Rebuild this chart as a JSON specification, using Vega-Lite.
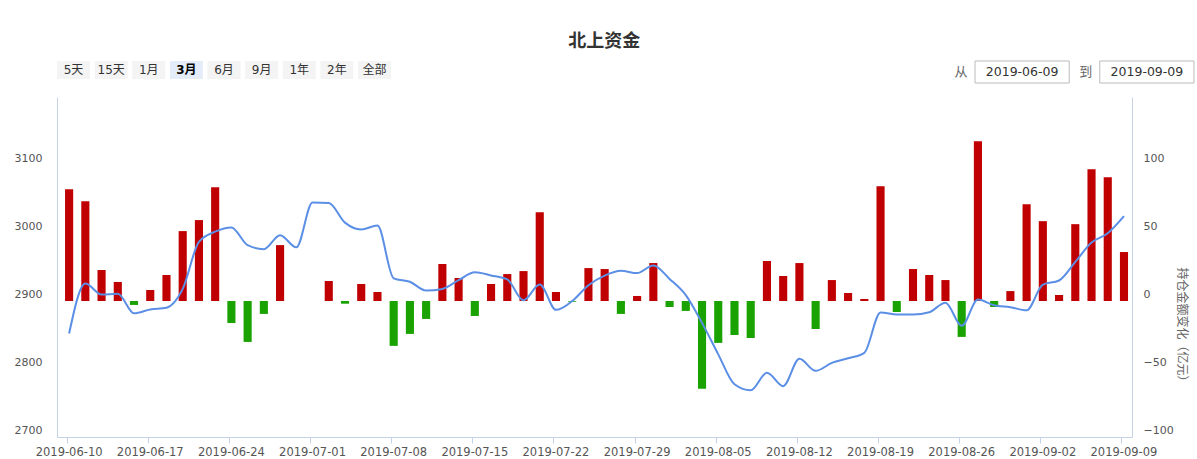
{
  "$schema": "https://vega.github.io/schema/vega-lite/v6.json",
  "background": "white",
  "padding": {"left": 14, "top": 32, "right": 5, "bottom": 0},
  "config": {"view": {"stroke": null}, "font": "DejaVu Sans, Noto Sans CJK SC"},
  "title": {"text": "北上资金", "anchor": "middle", "fontSize": 18, "fontWeight": "bold", "font": "Noto Sans CJK SC", "color": "#333333", "offset": 10},
  "datasets": {
    "main": [
      {"d": "2019-06-10", "sh": 2852.13, "flow": 82.2},
      {"d": "2019-06-11", "sh": 2925.72, "flow": 73.4},
      {"d": "2019-06-12", "sh": 2909.38, "flow": 22.8},
      {"d": "2019-06-13", "sh": 2910.74, "flow": 14.0},
      {"d": "2019-06-14", "sh": 2881.97, "flow": -2.9},
      {"d": "2019-06-17", "sh": 2887.62, "flow": 8.1},
      {"d": "2019-06-18", "sh": 2890.16, "flow": 19.1},
      {"d": "2019-06-19", "sh": 2917.80, "flow": 51.4},
      {"d": "2019-06-20", "sh": 2987.12, "flow": 59.5},
      {"d": "2019-06-21", "sh": 3001.98, "flow": 83.7},
      {"d": "2019-06-24", "sh": 3008.15, "flow": -16.2},
      {"d": "2019-06-25", "sh": 2982.07, "flow": -30.1},
      {"d": "2019-06-26", "sh": 2976.28, "flow": -9.5},
      {"d": "2019-06-27", "sh": 2996.79, "flow": 41.1},
      {"d": "2019-06-28", "sh": 2978.88, "flow": null},
      {"d": "2019-07-01", "sh": 3044.90, "flow": null},
      {"d": "2019-07-02", "sh": 3043.94, "flow": 14.7},
      {"d": "2019-07-03", "sh": 3015.26, "flow": -2.0},
      {"d": "2019-07-04", "sh": 3005.25, "flow": 12.5},
      {"d": "2019-07-05", "sh": 3011.06, "flow": 6.6},
      {"d": "2019-07-08", "sh": 2933.36, "flow": -33.0},
      {"d": "2019-07-09", "sh": 2928.23, "flow": -24.2},
      {"d": "2019-07-10", "sh": 2915.30, "flow": -13.2},
      {"d": "2019-07-11", "sh": 2917.76, "flow": 27.2},
      {"d": "2019-07-12", "sh": 2930.55, "flow": 16.9},
      {"d": "2019-07-15", "sh": 2942.19, "flow": -11.0},
      {"d": "2019-07-16", "sh": 2937.62, "flow": 12.5},
      {"d": "2019-07-17", "sh": 2931.69, "flow": 19.8},
      {"d": "2019-07-18", "sh": 2901.17, "flow": 22.0},
      {"d": "2019-07-19", "sh": 2924.20, "flow": 65.3},
      {"d": "2019-07-22", "sh": 2886.97, "flow": 6.6},
      {"d": "2019-07-23", "sh": 2899.94, "flow": -0.6},
      {"d": "2019-07-24", "sh": 2923.28, "flow": 24.2},
      {"d": "2019-07-25", "sh": 2937.36, "flow": 23.5},
      {"d": "2019-07-26", "sh": 2944.54, "flow": -9.5},
      {"d": "2019-07-29", "sh": 2941.01, "flow": 3.7},
      {"d": "2019-07-30", "sh": 2952.34, "flow": 27.9},
      {"d": "2019-07-31", "sh": 2932.51, "flow": -4.4},
      {"d": "2019-08-01", "sh": 2908.77, "flow": -7.3},
      {"d": "2019-08-02", "sh": 2867.84, "flow": -64.6},
      {"d": "2019-08-05", "sh": 2821.50, "flow": -30.8},
      {"d": "2019-08-06", "sh": 2777.56, "flow": -25.0},
      {"d": "2019-08-07", "sh": 2768.68, "flow": -27.2},
      {"d": "2019-08-08", "sh": 2794.55, "flow": 29.4},
      {"d": "2019-08-09", "sh": 2774.75, "flow": 18.4},
      {"d": "2019-08-12", "sh": 2814.99, "flow": 27.9},
      {"d": "2019-08-13", "sh": 2797.26, "flow": -20.6},
      {"d": "2019-08-14", "sh": 2808.91, "flow": 15.4},
      {"d": "2019-08-15", "sh": 2815.80, "flow": 5.9},
      {"d": "2019-08-16", "sh": 2823.82, "flow": 1.5},
      {"d": "2019-08-19", "sh": 2883.10, "flow": 84.4},
      {"d": "2019-08-20", "sh": 2880.33, "flow": -8.1},
      {"d": "2019-08-21", "sh": 2880.00, "flow": 23.5},
      {"d": "2019-08-22", "sh": 2883.44, "flow": 19.1},
      {"d": "2019-08-23", "sh": 2897.43, "flow": 15.4},
      {"d": "2019-08-26", "sh": 2863.57, "flow": -26.4},
      {"d": "2019-08-27", "sh": 2902.19, "flow": 117.5},
      {"d": "2019-08-28", "sh": 2893.76, "flow": -4.4},
      {"d": "2019-08-29", "sh": 2890.92, "flow": 7.3},
      {"d": "2019-08-30", "sh": 2886.24, "flow": 71.2},
      {"d": "2019-09-02", "sh": 2924.11, "flow": 58.7},
      {"d": "2019-09-03", "sh": 2930.15, "flow": 4.4},
      {"d": "2019-09-04", "sh": 2957.41, "flow": 56.5},
      {"d": "2019-09-05", "sh": 2985.86, "flow": 96.9},
      {"d": "2019-09-06", "sh": 2999.60, "flow": 91.0},
      {"d": "2019-09-09", "sh": 3024.74, "flow": 36.0}
    ],
    "btn": [
      {"label": "5天", "sel": 0},
      {"label": "15天", "sel": 0},
      {"label": "1月", "sel": 0},
      {"label": "3月", "sel": 1},
      {"label": "6月", "sel": 0},
      {"label": "9月", "sel": 0},
      {"label": "1年", "sel": 0},
      {"label": "2年", "sel": 0},
      {"label": "全部", "sel": 0}
    ],
    "rng": [
      {"lbl": "从", "d": "2019-06-09"},
      {"lbl": "到", "d": "2019-09-09"}
    ]
  },
  "vconcat": [
    {
      "hconcat": [
        {
          "width": 334,
          "height": 18,
          "data": {"name": "btn"},
          "encoding": {
            "x": {"field": "label", "type": "nominal", "sort": null,
                  "scale": {"domain": ["5天", "15天", "1月", "3月", "6月", "9月", "1年", "2年", "全部"], "paddingInner": 0.122, "paddingOuter": 0},
                  "axis": null}
          },
          "layer": [
            {"mark": {"type": "bar"},
             "encoding": {"color": {"condition": {"test": "datum.sel == 1", "value": "#e3ecf8"}, "value": "#f4f4f4"}}},
            {"transform": [{"filter": "datum.sel == 0"}],
             "mark": {"type": "text", "fontSize": 12, "color": "#333333", "baseline": "middle"},
             "encoding": {"text": {"field": "label"}}},
            {"transform": [{"filter": "datum.sel == 1"}],
             "mark": {"type": "text", "fontSize": 12, "fontWeight": "bold", "color": "#000000", "baseline": "middle"},
             "encoding": {"text": {"field": "label"}}}
          ]
        },
        {
          "width": 219,
          "height": 22,
          "data": {"name": "rng"},
          "encoding": {
            "x": {"field": "d", "type": "nominal", "sort": null,
                  "scale": {"domain": ["2019-06-09", "2019-09-09"], "paddingInner": 0.245, "paddingOuter": 0},
                  "axis": null}
          },
          "layer": [
            {"mark": {"type": "bar", "fill": "white", "stroke": "#bbbbbb", "strokeWidth": 1}},
            {"mark": {"type": "text", "fontSize": 12.5, "color": "#333333", "baseline": "middle"},
             "encoding": {"text": {"field": "d"}}},
            {"mark": {"type": "text", "fontSize": 13, "color": "#666666", "baseline": "middle", "dx": -14},
             "encoding": {"x": {"field": "d", "type": "nominal", "bandPosition": 0}, "text": {"field": "lbl"}}}
          ]
        }
      ],
      "spacing": 563
    },
    {
      "width": 1075,
      "height": 340,
      "data": {"name": "main"},
      "encoding": {
        "x": {"field": "d", "type": "ordinal", "sort": "ascending",
              "scale": {"type": "band", "paddingInner": 0.5, "paddingOuter": 0.37, "align": 0.67},
              "axis": {"values": ["2019-06-10", "2019-06-17", "2019-06-24", "2019-07-01", "2019-07-08", "2019-07-15", "2019-07-22", "2019-07-29", "2019-08-05", "2019-08-12", "2019-08-19", "2019-08-26", "2019-09-02", "2019-09-09"],
                       "title": null, "labelAngle": 0, "domainColor": "#c5d3e6", "tickColor": "#c5d3e6", "tickSize": 6,
                       "labelPadding": 3, "labelColor": "#555555", "labelFontSize": 11.5, "labelFont": "DejaVu Sans",
                       "grid": false, "bandPosition": 0.25, "labelOverlap": false}}
      },
      "layer": [
        {
          "mark": {"type": "bar"},
          "encoding": {
            "y": {"field": "flow", "type": "quantitative",
                  "scale": {"domain": [-100, 150], "nice": false},
                  "axis": {"orient": "right", "values": [-100, -50, 0, 50, 100], "format": "d", "title": "持仓金额变化（亿元）",
                           "titleAngle": 90, "titleAlign": "left", "titleBaseline": "middle", "titleX": 49, "titleY": 170,
                           "titleFontSize": 12, "titleFontWeight": "normal", "titleColor": "#666666", "titleFont": "Noto Sans CJK SC",
                           "ticks": false, "labelPadding": 11, "labelOffset": -7, "labelBound": false, "domainColor": "#c5d3e6", "labelColor": "#555555",
                           "labelFontSize": 11, "labelFont": "DejaVu Sans", "grid": false}},
            "color": {"condition": {"test": "datum.flow < 0", "value": "#1aa300"}, "value": "#c00000"}
          }
        },
        {
          "mark": {"type": "line", "color": "#5b8fe6", "strokeWidth": 2, "interpolate": "monotone"},
          "encoding": {
            "y": {"field": "sh", "type": "quantitative",
                  "scale": {"domain": [2700, 3200], "nice": false},
                  "axis": {"orient": "left", "values": [2700, 2800, 2900, 3000, 3100], "format": "d", "title": null,
                           "ticks": false, "labelPadding": 15, "labelOffset": -7, "labelBound": false, "domainColor": "#c5d3e6", "labelColor": "#555555",
                           "labelFontSize": 11, "labelFont": "DejaVu Sans", "grid": false}}
          }
        }
      ],
      "resolve": {"scale": {"y": "independent"}}
    }
  ],
  "spacing": 13
}
